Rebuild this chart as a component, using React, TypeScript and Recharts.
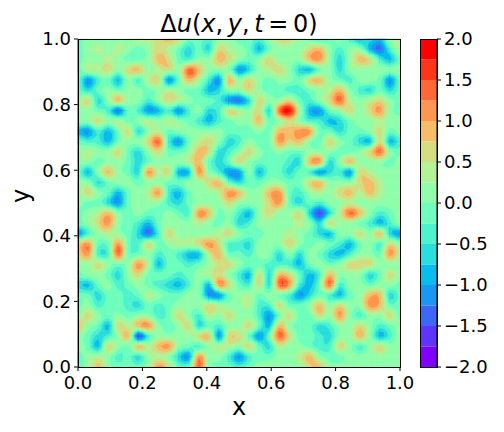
import React from "react";
import {
  ScatterChart, Scatter, XAxis, YAxis,
  BarChart, Bar,
} from "recharts";

// Level code per grid node (0..f), top row first: each code is one 0.25-wide band of the colour bar.
const heatRows = [
  "78888899aba 776887768aa 87678645489",
  "78989878a97 575a9874788 8ab86884269",
  "78898778ba7 688ba878a88 8bc858ba647",
  "799a8ab89a8 db8883589a8 54785888888",
  "73674869a37 b963b8a8788 7ab87688737",
  "75787887898 774588a8776 6789b865757",
  "8a58b8868a9 8776325a88a 768ad989a87",
  "88762763463 6856a98a5df 94378a8ac87",
  "88a89789898 7646788b78a 86645788988",
  "43647a58978 888877787bb cc775778a78",
  "7664788ad63 79a856877ca b87a8754a46",
  "8988a758a77 8ba568a8787 7888778ad87",
  "88788757888 9b757a87776 5bc58b88878",
  "748b875c9a4 4c863384775 763563a9888",
  "88578878877 88ab7577887 7ab888ab988",
  "8a874789c64 7889cb88bc7 6898ab9b988",
  "87753788865 7888a888ac7 57688988888",
  "789b8787787 6cb78648a88 a5159db8678",
  "78ac8764788 89878568888 985a8876468",
  "368987526a8 8889a877889 875488a8b53",
  "ac77c76a789 9aca665888a 878764786a8",
  "ac66d778676 449b7768858 587546887c9",
  "88a878c9477 678aa877666 47878aaa888",
  "788758a7776 789a864a5ba 746b88857a8",
  "54786787654 684ca76a5dc 647d6887887",
  "77577679877 88337897876 3576478bb57",
  "78677657678 88a988966a7 78b8a88cb77",
  "8a87878867a 8698a88637a 77a8c8688a7",
  "b874a9bc878 a57688a74b8 775688a8678",
  "87568b16888 8ab3aa737da 776588b8468",
  "874a87b9bc8 768998a7598 8766a868a88",
  "78986758985 3c886367788 9b877888888",
  "78b87778ca7 7d877678888 8ab88888888",
];

const levelColors = [
  "#8000ff", "#5d35fe", "#3b68f9", "#1a96f3", "#08bded", "#2bdddd", "#4df3ce", "#6efebd",
  "#90feab", "#b2f396", "#d4dd80", "#f6bd68", "#ff964f", "#ff6835", "#ff351a", "#ff0000",
];
const barStackOrder = [7, 6, 5, 4, 3, 2, 1, 0, 8, 9, 10, 11, 12, 13, 14, 15];
const axisTicks = [0, 0.2, 0.4, 0.6, 0.8, 1];
const barTicks = [-2, -1.5, -1, -0.5, 0, 0.5, 1, 1.5, 2];

const PLOT = { left: 78, top: 39, width: 322, height: 328 };
const FONT = "DejaVu Sans";
const SUB = 3;

const grid = heatRows.map((r) => r.replace(/ /g, "").split("").map((c) => parseInt(c, 16) + 0.5));
const nRows = grid.length - 1;
const nCols = grid[0].length - 1;

const node = (j: number, i: number) =>
  grid[Math.max(0, Math.min(nRows, j))][Math.max(0, Math.min(nCols, i))];
const spline = (a: number, b: number, c: number, d: number, t: number) =>
  0.5 * (2 * b + (c - a) * t + (2 * a - 5 * b + 4 * c - d) * t * t + (3 * b - a - 3 * c + d) * t * t * t);
// Smooth contouring surface through the grid nodes, as a contour plot draws it.
function surface(j: number, i: number, v: number, u: number) {
  const r = [-1, 0, 1, 2].map((dj) =>
    spline(node(j + dj, i - 1), node(j + dj, i), node(j + dj, i + 1), node(j + dj, i + 2), u)
  );
  return spline(r[0], r[1], r[2], r[3], v);
}

type Cell = { x: number; y: number; i: number; j: number };
const cells: Cell[] = [];
for (let j = 0; j < nRows; j++) {
  for (let i = 0; i < nCols; i++) {
    cells.push({ x: (i + 0.5) / nCols, y: 1 - (j + 0.5) / nRows, i, j });
  }
}

// Filled contours of one grid cell: the part of the cell at or above each band's lower edge.
function CellShape(props: any) {
  const { cx, cy, payload } = props;
  const c: Cell = payload;
  const w = PLOT.width / nCols;
  const h = PLOT.height / nRows;
  const x0 = cx - w / 2;
  const y0 = cy - h / 2;
  const pts: { x: number; y: number; v: number }[][] = [];
  for (let b = 0; b <= SUB; b++) {
    const row: { x: number; y: number; v: number }[] = [];
    for (let a = 0; a <= SUB; a++) {
      row.push({
        x: x0 + (w * a) / SUB,
        y: y0 + (h * b) / SUB,
        v: Math.max(0, Math.min(15.99, surface(c.j, c.i, b / SUB, a / SUB))),
      });
    }
    pts.push(row);
  }
  const paths: Record<number, string> = {};
  for (let b = 0; b < SUB; b++) {
    for (let a = 0; a < SUB; a++) {
      const corners = [pts[b][a], pts[b][a + 1], pts[b + 1][a + 1], pts[b + 1][a]];
      const vals = corners.map((p) => p.v);
      const lo = Math.floor(Math.min(...vals));
      const hi = Math.floor(Math.max(...vals));
      for (let level = lo; level <= hi; level++) {
        const poly: string[] = [];
        for (let k = 0; k < 4; k++) {
          const p = corners[k];
          const q = corners[(k + 1) % 4];
          if (p.v >= level) poly.push(`${p.x.toFixed(2)} ${p.y.toFixed(2)}`);
          if ((p.v >= level) !== (q.v >= level)) {
            const t = (level - p.v) / (q.v - p.v);
            poly.push(`${(p.x + (q.x - p.x) * t).toFixed(2)} ${(p.y + (q.y - p.y) * t).toFixed(2)}`);
          }
        }
        if (poly.length > 2) paths[level] = (paths[level] || "") + `M${poly.join("L")}Z`;
      }
    }
  }
  return (
    <g>
      {Object.keys(paths)
        .map(Number)
        .sort((a, b) => a - b)
        .map((level) => (
          <path key={level} d={paths[level]} fill={levelColors[level]} stroke={levelColors[level]} strokeWidth={0.5} />
        ))}
    </g>
  );
}

const barRow: Record<string, number | string>[] = [
  Object.fromEntries([["name", "c"], ...levelColors.map((_, i) => [`l${i}`, i < 8 ? -0.25 : 0.25])]),
];

const tickStyle = { fontSize: 18, fontFamily: FONT, fill: "#000" };
const axisStroke = { stroke: "#000", strokeWidth: 1 };
const fmtBar = (v: number) => (v < 0 ? `\u2212${Math.abs(v).toFixed(1)}` : v.toFixed(1));
const frame = { position: "absolute" as const, boxSizing: "border-box" as const, border: "1px solid #000", pointerEvents: "none" as const };

export default function App() {
  return (
    <div style={{ position: "absolute", left: 0, top: 0, width: 504, height: 432, background: "#fff" }}>
      <div
        style={{
          position: "absolute", left: 78, width: 322, top: 10, textAlign: "center",
          fontFamily: FONT, fontSize: 24, lineHeight: "28px", color: "#000", whiteSpace: "nowrap", wordSpacing: -3,
        }}
      >
        Δ<i>u</i>(<i>x</i>, <i>y</i>, <i>t</i> = 0)
      </div>
      <div style={{ position: "absolute", left: 0, top: 0 }}>
        <ScatterChart width={504} height={432} margin={{ left: 18, top: 39, right: 104, bottom: 25 }}>
          <XAxis
            type="number" dataKey="x" domain={[0, 1]} ticks={axisTicks} height={40}
            tickFormatter={(v: number) => v.toFixed(1)} tick={tickStyle} tickSize={4} tickMargin={5}
            axisLine={axisStroke} tickLine={axisStroke} interval={0}
            label={{ value: "x", position: "insideBottom", offset: -8, style: { fontSize: 24, fontFamily: FONT, fill: "#000" } }}
          />
          <YAxis
            type="number" dataKey="y" domain={[0, 1]} ticks={axisTicks} width={60}
            tickFormatter={(v: number) => v.toFixed(1)} tick={tickStyle} tickSize={4} tickMargin={3}
            axisLine={axisStroke} tickLine={axisStroke} interval={0}
            label={{ value: "y", angle: -90, position: "insideLeft", offset: 2, style: { fontSize: 24, fontFamily: FONT, fill: "#000" } }}
          />
          <Scatter data={cells} isAnimationActive={false} shape={(p: any) => <CellShape {...p} />} />
        </ScatterChart>
      </div>
      <div style={{ ...frame, left: 78, top: 39, width: 323, height: 329 }} />
      <div style={{ position: "absolute", left: 0, top: 0 }}>
        <BarChart
          width={504} height={432} data={barRow} stackOffset="sign" barCategoryGap={0}
          margin={{ left: 420, top: 39, right: 7, bottom: 65 }}
        >
          <XAxis dataKey="name" hide />
          <YAxis
            orientation="right" type="number" domain={[-2, 2]} ticks={barTicks} width={60} interval={0}
            tickFormatter={fmtBar} tick={{ ...tickStyle, textAnchor: "start" }} tickSize={4} tickMargin={3}
            axisLine={axisStroke} tickLine={axisStroke}
          />
          {barStackOrder.map((i) => (
            <Bar key={i} dataKey={`l${i}`} stackId="c" fill={levelColors[i]} isAnimationActive={false} />
          ))}
        </BarChart>
      </div>
      <div style={{ ...frame, left: 420, top: 39, width: 18, height: 329 }} />
    </div>
  );
}
